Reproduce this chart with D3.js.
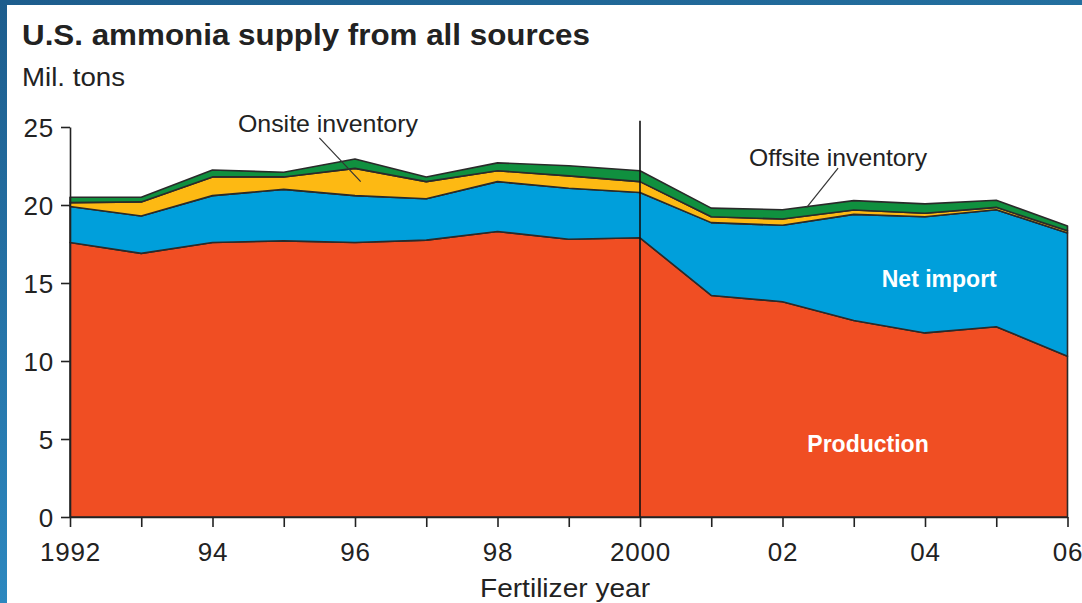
<!DOCTYPE html>
<html>
<head>
<meta charset="utf-8">
<script src="https://cdn.jsdelivr.net/npm/d3@7"></script>
<style>
  html, body { margin: 0; padding: 0; background: #fff; }
  svg { display: block; }
  text { font-family: "Liberation Sans", Arial, Helvetica, sans-serif; fill: #222; }
</style>
</head>
<body>
<svg id="chart" width="1082" height="603"></svg>
<script>
// fertilizer years
var years = [1992, 1993, 1994, 1995, 1996, 1997, 1998, 1999, 2000, 2001, 2002, 2003, 2004, 2005, 2006];
// mil. tons
var production = [17.6, 16.9, 17.6, 17.7, 17.6, 17.75, 18.3, 17.8, 17.9, 14.2, 13.8, 12.6, 11.8, 12.2, 10.3];
var netImport  = [2.3, 2.4, 3.0, 3.3, 3.0, 2.65, 3.2, 3.27, 2.9, 4.67, 4.9, 6.8, 7.45, 7.5, 7.9];
var onsite     = [0.25, 0.9, 1.2, 0.8, 1.75, 1.1, 0.7, 0.8, 0.7, 0.38, 0.4, 0.28, 0.22, 0.15, 0.15];
var offsite    = [0.35, 0.3, 0.44, 0.3, 0.6, 0.3, 0.5, 0.65, 0.7, 0.55, 0.6, 0.6, 0.6, 0.45, 0.3];

var yTicks = [0, 5, 10, 15, 20, 25];
var xLabels = {1992: "1992", 1994: "94", 1996: "96", 1998: "98", 2000: "2000", 2002: "02", 2004: "04", 2006: "06"};

var keys = ["production", "netImport", "onsite", "offsite"];
var colors = {production: "#f04e23", netImport: "#009fdb", onsite: "#fdb913", offsite: "#10903f"};

var rows = years.map(function(yr, i){
  return {year: yr, production: production[i], netImport: netImport[i], onsite: onsite[i], offsite: offsite[i]};
});

var svg = d3.select("#chart");

/* frame */
var defs = svg.append("defs");
var gl = defs.append("linearGradient").attr("id", "frameL").attr("x1", 0).attr("y1", 0).attr("x2", 0).attr("y2", 1);
gl.append("stop").attr("offset", "0%").attr("stop-color", "#1d5d8d");
gl.append("stop").attr("offset", "100%").attr("stop-color", "#2d88bf");
var gt = defs.append("linearGradient").attr("id", "frameT").attr("x1", 0).attr("y1", 0).attr("x2", 1).attr("y2", 0);
gt.append("stop").attr("offset", "0%").attr("stop-color", "#1d5d8d");
gt.append("stop").attr("offset", "100%").attr("stop-color", "#236f9f");

svg.append("rect").attr("width", 1082).attr("height", 603).attr("fill", "#fff");
svg.append("rect").attr("x", 0).attr("y", 0).attr("width", 1082).attr("height", 5).attr("fill", "url(#frameT)");
svg.append("rect").attr("x", 0).attr("y", 0).attr("width", 7).attr("height", 603).attr("fill", "url(#frameL)");

/* scales */
var x = d3.scaleLinear().domain([1992, 2006]).range([70, 1067.5]);
var y = d3.scaleLinear().domain([0, 25]).range([517, 127]);

/* titles */
svg.append("text").attr("x", 22).attr("y", 45)
  .style("font-size", "30px").style("font-weight", "bold")
  .attr("textLength", 568).attr("lengthAdjust", "spacingAndGlyphs")
  .text("U.S. ammonia supply from all sources");
svg.append("text").attr("x", 22).attr("y", 86)
  .style("font-size", "25px")
  .attr("textLength", 103).attr("lengthAdjust", "spacingAndGlyphs")
  .text("Mil. tons");

/* stacked areas */
var series = d3.stack().keys(keys)(rows);
var area = d3.area()
  .x(function(d){ return x(d.data.year); })
  .y0(function(d){ return y(d[0]); })
  .y1(function(d){ return y(d[1]); });

svg.append("g").selectAll("path")
  .data(series)
  .join("path")
  .attr("d", area)
  .attr("fill", function(d){ return colors[d.key]; })
  .attr("stroke", "#2a2a2a")
  .attr("stroke-width", 1.6)
  .attr("stroke-linejoin", "round");

/* 2000 divider */
svg.append("line")
  .attr("x1", x(2000)).attr("x2", x(2000))
  .attr("y1", y(25.4)).attr("y2", y(0))
  .attr("stroke", "#111").attr("stroke-width", 1.6);

/* axes */
var yAxis = svg.append("g")
  .attr("transform", "translate(" + x(1992) + ",0)")
  .call(d3.axisLeft(y).tickValues(yTicks).tickSize(9).tickSizeOuter(0).tickPadding(7));
var xAxis = svg.append("g")
  .attr("transform", "translate(0," + y(0) + ")")
  .call(d3.axisBottom(x).tickValues(years).tickSize(10).tickSizeOuter(0).tickPadding(16)
    .tickFormat(function(d){ return xLabels[d] || ""; }));

[yAxis, xAxis].forEach(function(ax){
  ax.select(".domain").attr("stroke", "#222").attr("stroke-width", 1.6);
  ax.selectAll(".tick line").attr("stroke", "#222").attr("stroke-width", 1.6);
  ax.selectAll(".tick text").style("font-size", "26px").style("letter-spacing", "0.8px")
    .style("font-family", "\"Liberation Sans\", Arial, sans-serif").attr("fill", "#222");
});
yAxis.selectAll(".tick text").attr("dy", "0.36em");

svg.append("text").attr("x", 565).attr("y", 597)
  .attr("text-anchor", "middle").style("font-size", "26px")
  .attr("textLength", 170).attr("lengthAdjust", "spacingAndGlyphs")
  .text("Fertilizer year");

/* annotations */
svg.append("line")
  .attr("x1", x(1995.5)).attr("y1", y(24.3))
  .attr("x2", x(1996.08)).attr("y2", y(21.5))
  .attr("stroke", "#333").attr("stroke-width", 1.2);
svg.append("text").attr("x", x(1995.62)).attr("y", y(24.65))
  .attr("text-anchor", "middle").style("font-size", "24px")
  .attr("textLength", 180).attr("lengthAdjust", "spacingAndGlyphs")
  .text("Onsite inventory");

svg.append("line")
  .attr("x1", x(2002.78)).attr("y1", y(22.37))
  .attr("x2", x(2002.34)).attr("y2", y(19.85))
  .attr("stroke", "#333").attr("stroke-width", 1.2);
svg.append("text").attr("x", x(2002.78)).attr("y", y(22.5))
  .attr("text-anchor", "middle").style("font-size", "24px")
  .attr("textLength", 178).attr("lengthAdjust", "spacingAndGlyphs")
  .text("Offsite inventory");

svg.append("text").attr("x", x(2004.2)).attr("y", y(14.75))
  .attr("text-anchor", "middle").style("font-size", "23px").style("font-weight", "bold")
  .style("fill", "#fff")
  .text("Net import");
svg.append("text").attr("x", x(2003.2)).attr("y", y(4.15))
  .attr("text-anchor", "middle").style("font-size", "23px").style("font-weight", "bold")
  .style("fill", "#fff")
  .text("Production");
</script>
</body>
</html>
